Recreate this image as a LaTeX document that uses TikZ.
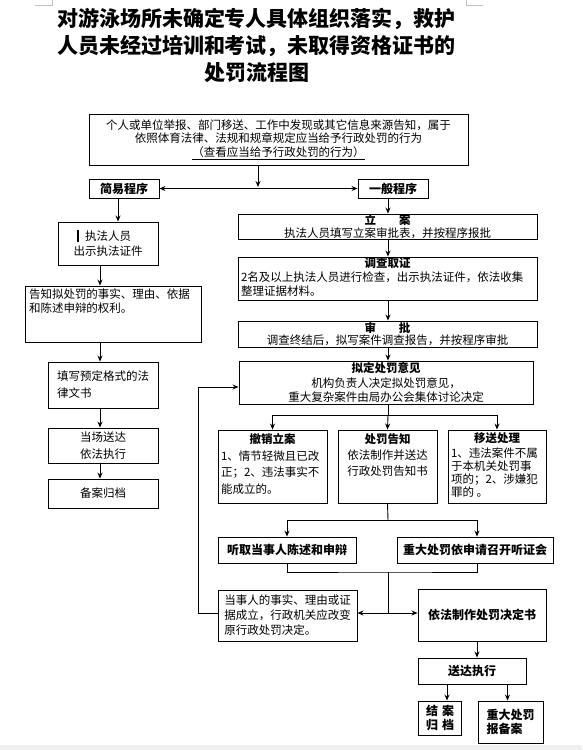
\documentclass[tikz,border=0pt]{standalone}
\usepackage{fontspec}
\setmainfont{Noto Sans CJK SC}
\usetikzlibrary{arrows.meta,calc}
\newcommand{\topboxtext}[3]{\parbox[c][#1][t]{#2}{#3}}

\begin{document}
\begin{tikzpicture}[x=1pt, y=-1pt,
  box/.style={draw, line width=0.9pt, inner sep=1pt, align=center,
    font=\fontsize{11.5}{14}\selectfont},
  headbox/.style={box, font=\fontsize{12}{14}\selectfont\bfseries},
  tightbox/.style={box, inner sep=0pt, font=\fontsize{11.5}{12.5}\selectfont},
  arr/.style={-{Stealth[length=6pt,width=5pt]}, line width=0.9pt},
  dblarr/.style={{Stealth[length=6pt,width=5pt]}-{Stealth[length=6pt,width=5pt]}, line width=0.9pt},
  link/.style={line width=0.9pt},
  ]
  \useasboundingbox (0,0) rectangle (582,750);
  \fill[white] (0,0) rectangle (582,750);
  \fill[black!6] (0,745) rectangle (582,750);
  \draw[black!25, line width=0.6pt] (35,5) -- (52,5) -- (52,0);
  \draw[black!25, line width=0.6pt] (483,5) -- (466,5) -- (466,0);

  \node[font=\fontsize{21}{27}\selectfont\bfseries, align=center] (title) at (256.5,45)
    {对游泳场所未确定专人具体组织落实，救护\\人员未经过培训和考试，未取得资格证书的\\处罚流程图};

  % source of the case
  \node[box, minimum width=379, minimum height=51, font=\fontsize{11.5}{13.5}\selectfont] (source) at (278.5,139.5)
    {个人或单位举报、部门移送、工作中发现或其它信息来源告知，属于\\依照体育法律、法规和规章规定应当给予行政处罚的行为\\\underline{（查看应当给予行政处罚的行为）}};
  \node[headbox, minimum width=70, minimum height=19] (simple) at (124,188.5) {简易程序};
  \node[headbox, minimum width=70, minimum height=19] (general) at (393,188.5) {一般程序};

  % simple procedure
  \node[box, minimum width=100, minimum height=43, font=\fontsize{11.5}{15}\selectfont] (lawman) at (108,243.5)
    {\llap{\rule[-1.5pt]{1.6pt}{12pt}\hspace{6pt}}执法人员\\出示执法证件};
  \node[box, minimum width=176, minimum height=56] (notify) at (113,314)
    {\topboxtext{50pt}{168pt}{\raggedright 告知拟处罚的事实、理由、依据\\和陈述申辩的权利。}};
  \node[box, minimum width=110, minimum height=46, align=left, font=\fontsize{11.5}{17}\selectfont] (form) at (103,385)
    {填写预定格式的法\\律文书};
  \node[box, minimum width=110, minimum height=35, font=\fontsize{11.5}{17}\selectfont] (deliver) at (103,445.5)
    {当场送达\\依法执行};
  \node[box, minimum width=110, minimum height=29] (archive) at (103,493.5) {备案归档};

  % general procedure
  \node[tightbox, minimum width=299, minimum height=25] (filing) at (387.5,226.5)
    {{\bfseries 立\hspace{2em}案}\\执法人员填写立案审批表，并按程序报批};
  \node[box, minimum width=299, minimum height=43] (investigate) at (387.5,278.5)
    {\topboxtext{41pt}{293pt}{\fontsize{11.5}{14}\selectfont{\centering\bfseries 调查取证\par}\raggedright
     2名及以上执法人员进行检查，出示执法证件，依法收集\\整理证据材料。}};
  \node[tightbox, minimum width=299, minimum height=26] (approve) at (387.5,334)
    {{\bfseries 审\hspace{2em}批}\\调查终结后，拟写案件调查报告，并按程序审批};
  \node[box, minimum width=294, minimum height=43, inner sep=0pt, font=\fontsize{11.5}{14.5}\selectfont] (opinion) at (386,382.5)
    {{\bfseries 拟定处罚意见}\\机构负责人决定拟处罚意见，\\重大复杂案件由局办公会集体讨论决定};

  \node[box, minimum width=109, minimum height=73] (cancel) at (272.5,466.5)
    {\topboxtext{66pt}{103pt}{\fontsize{11.5}{16.5}\selectfont{\centering\bfseries 撤销立案\par}\raggedright
     1、情节轻微且已改\\正；2、违法事实不\\能成立的。}};
  \node[box, minimum width=99, minimum height=73] (notice) at (387.5,466.5)
    {\topboxtext{66pt}{93pt}{\fontsize{11.5}{16}\selectfont\centering{\bfseries 处罚告知}\\依法制作并送达\\行政处罚告知书\par}};
  \node[box, minimum width=98, minimum height=73] (transfer) at (497,466.5)
    {\topboxtext{68pt}{92pt}{\fontsize{11.5}{13}\selectfont{\centering\bfseries 移送处理\par}\vspace{2pt}\raggedright
     1、违法案件不属\\于本机关处罚事\\项的；2、涉嫌犯\\罪的 。}};

  \node[headbox, minimum width=138, minimum height=26] (hearA) at (287,550) {听取当事人陈述和申辩};
  \node[headbox, minimum width=156, minimum height=26] (hearB) at (475,550) {重大处罚依申请召开听证会};

  \node[box, minimum width=139, minimum height=51, align=left, font=\fontsize{11.5}{15}\selectfont] (change) at (287.5,615.5)
    {当事人的事实、理由或证\\据成立，行政机关应改变\\原行政处罚决定。};
  \node[headbox, minimum width=128, minimum height=52] (decision) at (482,615) {依法制作处罚决定书};
  \node[headbox, minimum width=108, minimum height=26] (serve) at (472,671) {送达执行};
  \node[headbox, minimum width=43, minimum height=34] (close) at (440,718) {结\hspace{4pt}案\\归\hspace{4pt}档};
  \node[headbox, minimum width=65, minimum height=42, align=left] (report) at (510.5,722) {重大处罚\\报备案};

  % connectors
  \coordinate (split) at (258,187);
  \coordinate (lcol) at (100,0);
  \coordinate (rcol) at (388,0);
  \coordinate (fork) at (388,415);
  \coordinate (fork2) at (388,520);
  \coordinate (join) at (388,572);
  \coordinate (split3) at (388,613);
  \coordinate (back) at (198,387);

  \draw[arr] (split |- source.south) -- (split);
  \draw[dblarr] (simple.east) -- (general.west);

  \draw[arr] ([xshift=-6pt]simple.south) -- ([xshift=-6pt]simple.south |- lawman.north);
  \draw[arr] (lcol |- lawman.south) -- (lcol |- notify.north);
  \draw[arr] (lcol |- notify.south) -- (lcol |- form.north);
  \draw[arr] (lcol |- form.south) -- (lcol |- deliver.north);
  \draw[arr] (lcol |- deliver.south) -- (lcol |- archive.north);

  \draw[arr] (rcol |- general.south) -- (rcol |- filing.north);
  \draw[arr] (rcol |- filing.south) -- (rcol |- investigate.north);
  \draw[arr] (rcol |- investigate.south) -- (rcol |- approve.north);
  \draw[arr] (rcol |- approve.south) -- (rcol |- opinion.north);

  \draw[link] (rcol |- opinion.south) -- (fork);
  \draw[arr] (fork) -| (cancel.north);
  \draw[arr] (fork) -- (notice.north);
  \draw[arr] (fork) -| (transfer.north);

  \draw[link] (notice.south) -- (fork2);
  \draw[arr] (fork2) -| (hearA.north);
  \draw[arr] (fork2) -| ([xshift=2pt]hearB.north);
  \draw[link] (hearA.south) |- (join) -| ([xshift=2pt]hearB.south);
  \draw[link] (join) -- (split3);
  \draw[arr] (split3) -- (change.east |- split3);
  \draw[arr] (split3) -- (decision.west |- split3);

  \draw[arr] (change.west |- split3) -| (back) -- (opinion.west |- back);

  \draw[arr] ([xshift=-5pt]decision.south) -- ([xshift=-5pt]decision.south |- serve.north);
  \draw[arr] ([xshift=7pt]close.north |- serve.south) -- ([xshift=7pt]close.north);
  \draw[arr] ([xshift=-3pt]report.north |- serve.south) -- ([xshift=-3pt]report.north);
\end{tikzpicture}
\end{document}
